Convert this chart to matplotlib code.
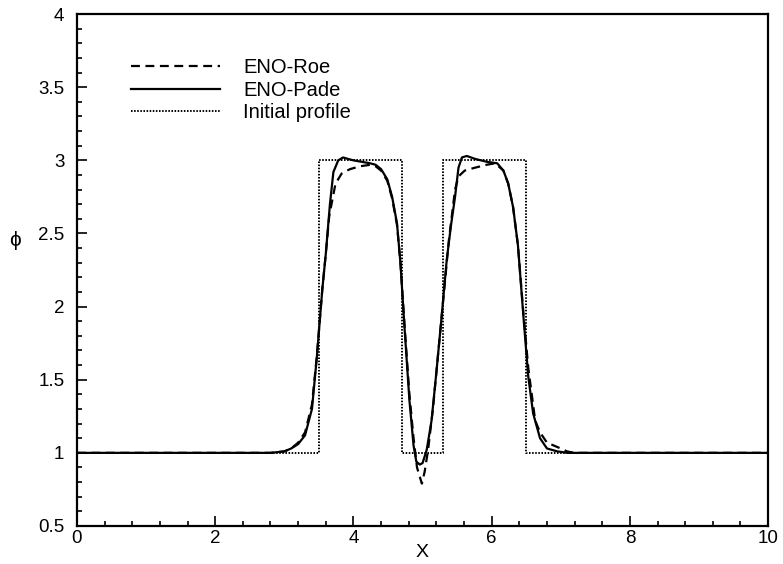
import matplotlib
matplotlib.use("Agg")
import matplotlib.pyplot as plt
from matplotlib.ticker import MultipleLocator

plt.rcParams['font.family'] = ['Liberation Sans', 'DejaVu Sans']

# initial square-wave profile
x_init = [0, 3.5, 3.5, 4.7, 4.7, 5.3, 5.3, 6.5, 6.5, 10]
phi_init = [1, 1, 3, 3, 1, 1, 3, 3, 1, 1]

# ENO-Pade (solid)
x_pade = [0, 2.8, 3.0, 3.1, 3.2, 3.3, 3.4, 3.47, 3.55, 3.6, 3.66, 3.71, 3.78,
          3.85, 3.92, 4.0, 4.12, 4.24, 4.32, 4.4, 4.49, 4.56, 4.63, 4.68, 4.74,
          4.81, 4.87, 4.91, 4.96, 5.0, 5.06, 5.13, 5.2, 5.27, 5.35, 5.41, 5.47,
          5.52, 5.57, 5.64, 5.76, 5.93, 6.08, 6.17, 6.24, 6.31, 6.38, 6.46,
          6.53, 6.6, 6.7, 6.8, 6.95, 7.1, 10]
phi_pade = [1, 1, 1.01, 1.03, 1.06, 1.12, 1.3, 1.65, 2.12, 2.36, 2.7, 2.92, 3.0,
            3.02, 3.01, 3.0, 2.99, 2.98, 2.97, 2.94, 2.87, 2.75, 2.57, 2.3, 1.85,
            1.36, 1.05, 0.94, 0.92, 0.93, 1.02, 1.22, 1.55, 1.9, 2.32, 2.55, 2.75,
            2.95, 3.02, 3.03, 3.01, 2.99, 2.98, 2.93, 2.84, 2.68, 2.42, 1.93,
            1.52, 1.27, 1.1, 1.03, 1.01, 1.0, 1.0]

# ENO-Roe (dashed)
x_roe = [0, 2.8, 3.0, 3.1, 3.2, 3.3, 3.4, 3.47, 3.55, 3.6, 3.65, 3.74, 3.83,
         3.95, 4.1, 4.25, 4.32, 4.4, 4.49, 4.56, 4.63, 4.68, 4.74, 4.81, 4.87,
         4.92, 4.99, 5.03, 5.08, 5.15, 5.22, 5.3, 5.38, 5.47, 5.52, 5.61, 5.76,
         5.93, 6.05, 6.17, 6.24, 6.31, 6.38, 6.46, 6.53, 6.63, 6.7, 6.8, 6.95,
         7.09, 7.2, 10]
phi_roe = [1, 1, 1.01, 1.03, 1.07, 1.14, 1.33, 1.66, 2.12, 2.36, 2.62, 2.84, 2.91,
           2.94, 2.96, 2.97, 2.96, 2.93, 2.86, 2.74, 2.56, 2.3, 1.87, 1.4, 1.1,
           0.9, 0.79, 0.87, 1.02, 1.3, 1.65, 2.05, 2.45, 2.8, 2.89, 2.93, 2.95,
           2.97, 2.98, 2.93, 2.84, 2.68, 2.42, 1.95, 1.58, 1.22, 1.14, 1.07, 1.04,
           1.01, 1.0, 1.0]

fig = plt.figure(figsize=(7.83, 5.64), dpi=100)
ax = fig.add_axes([0.0983, 0.0674, 0.8827, 0.9076])

ax.plot(x_roe, phi_roe, color='black', lw=1.6, linestyle=(0, (4, 2.5)), label='ENO-Roe')
ax.plot(x_pade, phi_pade, color='black', lw=1.6, linestyle='-', label='ENO-Pade')
ax.plot(x_init, phi_init, color='black', lw=1.4, linestyle=(0, (0.8, 0.8)), label='Initial profile')

ax.set_xlim(0, 10)
ax.set_ylim(0.5, 4)
ax.xaxis.set_major_locator(MultipleLocator(2))
ax.xaxis.set_minor_locator(MultipleLocator(0.4))
ax.yaxis.set_major_locator(MultipleLocator(0.5))
ax.yaxis.set_minor_locator(MultipleLocator(0.1))
ax.yaxis.set_major_formatter(plt.FuncFormatter(lambda v, p: ('%g' % v)))
ax.tick_params(which='both', direction='in', top=False, right=False, width=1.2, labelsize=13.5)
ax.tick_params(which='major', length=7)
ax.tick_params(which='minor', length=3.6)
ax.tick_params(axis='x', which='major', pad=3)
ax.tick_params(axis='y', which='major', pad=9)
for s in ax.spines.values():
    s.set_linewidth(1.6)

ax.set_xlabel('X', fontsize=14, labelpad=-2)
ax.set_ylabel('ϕ', fontsize=15, rotation=0)
ax.yaxis.set_label_coords(-0.09, 0.54)

ax.legend(loc='upper left', bbox_to_anchor=(0.067, 0.93), frameon=False,
          fontsize=14.5, handlelength=4.4, handletextpad=1.15, labelspacing=0.18,
          borderaxespad=0)

fig.savefig('out.png', dpi=100)
